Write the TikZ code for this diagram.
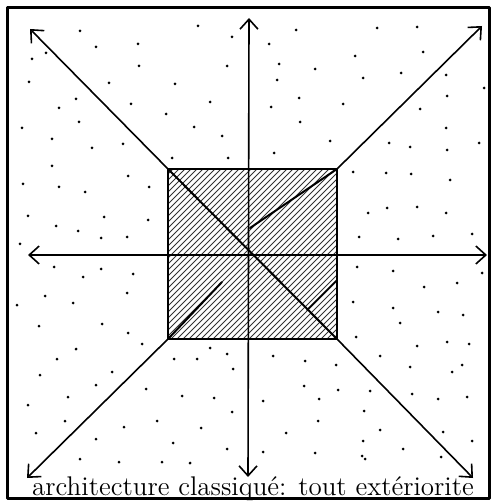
\documentclass[tikz,border=0pt]{standalone}
\usepackage{tikz}
\usetikzlibrary{arrows.meta}

\begin{document}
\begin{tikzpicture}[x=0.5pt, y=-0.5pt, >={Straight Barb[length=5pt,width=9pt]}, line cap=round, line join=round]
  \useasboundingbox (0,0) rectangle (492,501);
  \draw[line width=1.5pt] (7,8) rectangle (489,498);
  % square and arrow ends
  \coordinate (c) at (249,255);
  \coordinate (tl) at (168,169);
  \coordinate (tr) at (337,169);
  \coordinate (bl) at (168,339);
  \coordinate (br) at (337,339);
  \coordinate (wTip) at (28,255);
  \coordinate (eTip) at (487,255);
  \coordinate (nTip) at (249,18);
  \coordinate (sTip) at (248,477);
  \coordinate (nwTip) at (30,29);
  \coordinate (neTip) at (482,26);
  \coordinate (swTip) at (27,478);
  \coordinate (seTip) at (473,478);
  \coordinate (trIn) at (250,228);
  \coordinate (blIn) at (222,282);
  \coordinate (brA) at (337,280);
  \coordinate (brB) at (307,310);
  % scattered points
  \foreach \p in {(80,31),(96,47),(138,44),(32,59),(46,53),(139,66),(29,82),(109,83),(76,99),(59,108),(131,104),(79,122),(22,128),(52,139),(123,144),(92,148),
    (377,28),(417,27),(355,56),(423,52),(363,78),(401,73),(446,75),(484,88),(343,104),(420,109),(447,96),(446,128),(389,143),(410,147),(479,143),
    (198,26),(232,37),(269,44),(296,30),(227,66),(279,64),(315,69),(175,84),(210,102),(166,114),(194,127),(222,136),(172,158),(228,158),(277,80),(299,98),(271,107),(300,122),(330,141),(274,153),
    (52,166),(23,184),(59,187),(85,192),(128,176),(149,187),(28,216),(104,217),(56,226),(78,231),(148,220),(101,238),(127,237),(20,244),(54,267),(101,269),(133,274),(83,277),(45,296),(127,293),(17,305),(73,303),(39,326),(102,324),(128,333),(76,349),(142,344),
    (447,150),(353,172),(386,173),(411,174),(450,180),(368,213),(387,208),(417,207),(446,213),(359,237),(398,239),(433,236),(472,234),(357,267),(393,271),(482,273),(424,287),(457,283),(353,302),(393,308),(438,312),(463,315),(400,323),(356,337),(417,346),(447,342),(469,344),(380,356),
    (57,359),(40,375),(112,372),(96,385),(146,389),(68,397),(28,405),(65,421),(157,421),(124,427),(36,433),(96,439),(80,459),(119,462),
    (410,367),(462,365),(452,372),(370,391),(412,394),(438,399),(467,397),(364,411),(380,430),(443,432),(363,441),(472,441),(403,449),(441,457),(365,459),
    (210,348),(174,359),(197,359),(227,354),(233,369),(182,396),(214,398),(232,412),(201,428),(173,443),(227,449),(273,356),(305,361),(336,365),(304,386),(338,390),(263,401),(319,399),(318,421),(286,433),
    (162,462),(190,463),(263,452),(315,453),(362,456)}
    \fill \p circle (1.5);
  % hatched square
  \begin{scope}
    \clip (tl) rectangle (br);
    \foreach \i in {-186,-180,...,186}
      \draw[line width=0.4pt, black!80] ({249+\i-100},355) -- ({249+\i+100},155);
  \end{scope}
  \draw[line width=1.4pt] (tl) rectangle (br);
  \draw[line width=1pt] (tl) -- (br);
  \draw[line width=1pt] (tr) -- (trIn);
  \draw[line width=1pt] (bl) -- (blIn);
  \draw[line width=0.8pt] (brA) -- (brB);
  % arrows
  \draw[<->, line width=0.8pt] (wTip) -- (eTip);
  \draw[<->, line width=0.8pt] (nTip) -- (sTip);
  \draw[->, line width=0.8pt] (tl) -- (nwTip);
  \draw[->, line width=0.8pt] (tr) -- (neTip);
  \draw[->, line width=0.8pt] (bl) -- (swTip);
  \draw[->, line width=0.8pt] (br) -- (seTip);
  \node[font=\fontsize{13.5}{16}\selectfont, anchor=base, inner sep=0pt] (caption) at (253,495) {architecture classiqué: tout extériorite};
\end{tikzpicture}
\end{document}
